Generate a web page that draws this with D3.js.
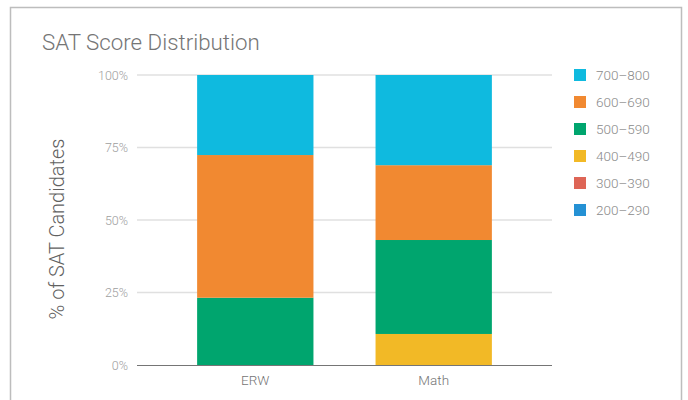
<!DOCTYPE html>
<html><head><meta charset="utf-8">
<script src="https://cdn.jsdelivr.net/npm/d3@7"></script>
<style>body{margin:0;background:#fff;font-family:Roboto,"Noto Sans",sans-serif;} text{font-weight:300;}</style>
</head><body>
<svg id="c" width="688" height="400"></svg>
<script>
const categories = ["ERW", "Math"];
const seriesNames = ["200–290", "300–390", "400–490", "500–590", "600–690", "700–800"];
const seriesColors = ["#2591d4", "#de6556", "#f2b926", "#00a56e", "#f18931", "#0fbadf"];
const erwValues = [0, 0, 0, 23.2, 49.2, 27.6];
const mathValues = [0, 0, 10.7, 32.4, 25.8, 31.1];
const yTicks = [0, 25, 50, 75, 100];

const svg = d3.select("#c");
// frame
svg.append("path").attr("d","M10.5,410 V7.5 H681.5 V410").attr("fill","none").attr("stroke","#bdbdbd").attr("stroke-width",1.5);

svg.append("text").attr("x",42).attr("y",50).attr("font-size",22.3).attr("fill","#757575").text("SAT Score Distribution");

const x = d3.scaleBand().domain(categories).range([137,552]).paddingInner(0.348).paddingOuter(0.337);
const y = d3.scaleLinear().domain([0,100]).range([365,75]);

const rows = categories.map((c,i)=>{ const vals = i===0?erwValues:mathValues; const o={cat:c}; seriesNames.forEach((s,j)=>o[s]=vals[j]); return o;});
const stacked = d3.stack().keys(seriesNames)(rows);

// grid
svg.append("g").selectAll("line").data(yTicks.filter(t=>t>0)).join("line")
 .attr("x1",137).attr("x2",552).attr("y1",d=>y(d)).attr("y2",d=>y(d)).attr("stroke","#e0e0e0").attr("stroke-width",1.5);

const yAxis = svg.append("g").attr("transform","translate(137,0)").call(d3.axisLeft(y).tickValues(yTicks).tickFormat(d=>d+"%").tickSize(0).tickPadding(9));
yAxis.select(".domain").remove();
yAxis.selectAll("text").attr("font-size",12.5).attr("fill","#9e9e9e").attr("font-family","Roboto");

stacked.forEach((s,j)=>{
  svg.append("g").selectAll("rect").data(s).join("rect")
   .attr("x",d=>x(d.data.cat)).attr("width",x.bandwidth())
   .attr("y",d=>y(d[1])).attr("height",d=>y(d[0])-y(d[1]))
   .attr("fill",seriesColors[j]);
});

svg.append("line").attr("x1",137).attr("x2",552).attr("y1",365.5).attr("y2",365.5).attr("stroke","#757575").attr("stroke-width",1.2);

const xAxis = svg.append("g").attr("transform","translate(0,365)").call(d3.axisBottom(x).tickSize(0).tickPadding(10));
xAxis.select(".domain").remove();
xAxis.selectAll("text").attr("font-size",13.5).attr("fill","#757575").attr("font-family","Roboto");

svg.append("text").attr("transform","translate(64,229) rotate(-90)").attr("text-anchor","middle")
 .attr("font-size",20).attr("fill","#616161").text("% of SAT Candidates");

const legendOrder = seriesNames.slice().reverse();
const lg = svg.append("g").selectAll("g").data(legendOrder).join("g")
 .attr("transform",(d,i)=>`translate(574,${69+i*27})`);
lg.append("rect").attr("width",12).attr("height",12).attr("fill",d=>seriesColors[seriesNames.indexOf(d)]);
lg.append("text").attr("x",22).attr("y",11).attr("font-size",13.5).attr("fill","#8a8a8a").text(d=>d);
</script>
</body></html>
